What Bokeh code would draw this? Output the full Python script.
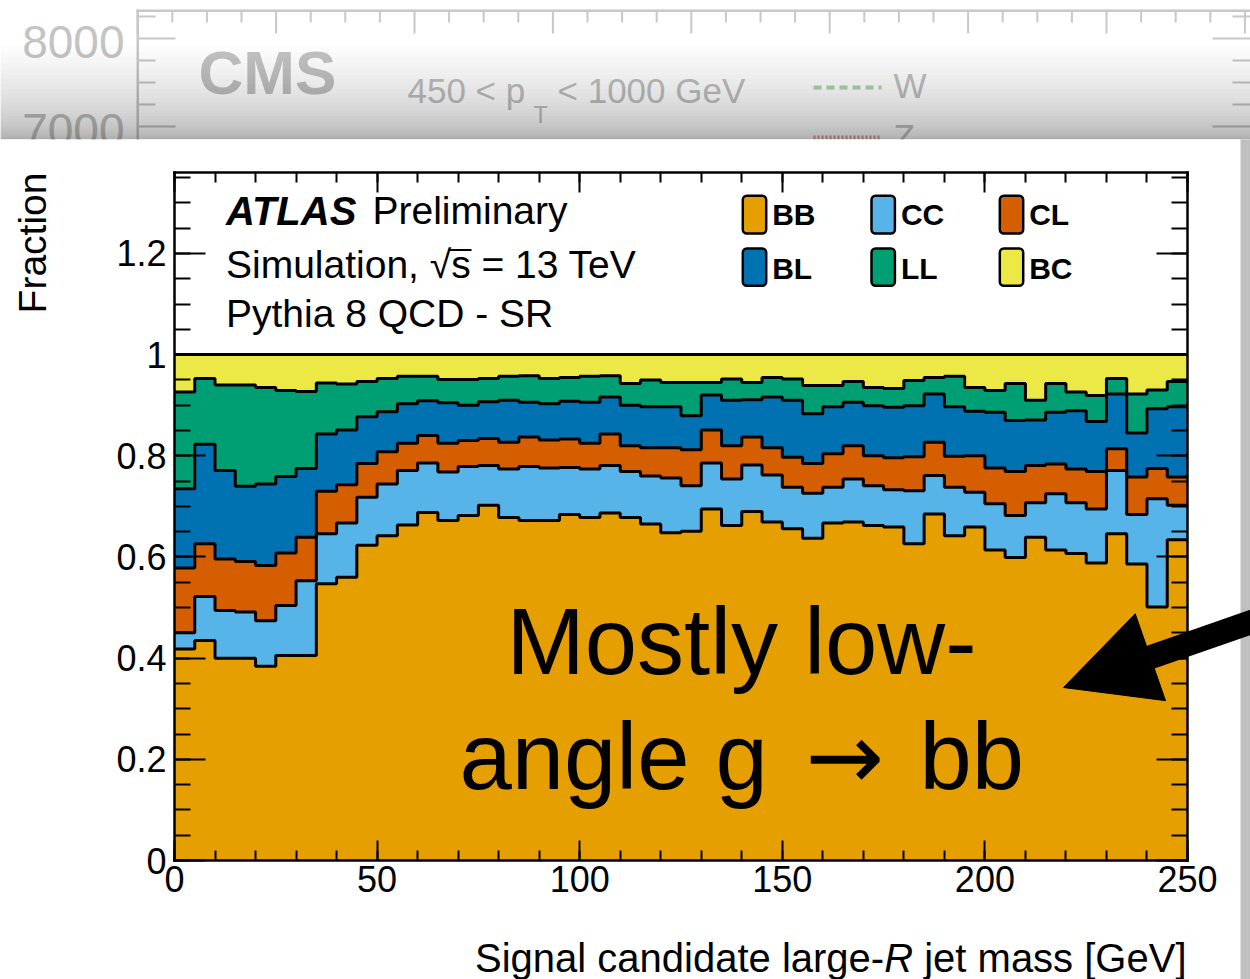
import numpy as np
from bokeh.plotting import figure
from bokeh.models import (Range1d, LinearAxis, SingleIntervalTicker, CustomJSTickFormatter,
                          Label, BoxAnnotation, Arrow, NormalHead)
from bokeh.embed import file_html
from bokeh.resources import INLINE

# ---------------- data (fractions per 5 GeV bin, 0-250 GeV) ----------------
mass_edges = list(range(0, 255, 5))
frac_BB = [0.418, 0.435, 0.400, 0.400, 0.384, 0.405, 0.405, 0.547, 0.560, 0.623,
           0.642, 0.663, 0.688, 0.672, 0.682, 0.702, 0.678, 0.672, 0.672, 0.684,
           0.678, 0.687, 0.678, 0.665, 0.648, 0.651, 0.695, 0.662, 0.690, 0.669,
           0.656, 0.637, 0.667, 0.669, 0.662, 0.659, 0.626, 0.685, 0.642, 0.659,
           0.614, 0.599, 0.639, 0.614, 0.607, 0.588, 0.646, 0.586, 0.501, 0.634]
frac_CC = [0.032, 0.087, 0.094, 0.091, 0.090, 0.099, 0.148, 0.099, 0.107, 0.095,
           0.102, 0.108, 0.098, 0.096, 0.097, 0.079, 0.096, 0.107, 0.104, 0.093,
           0.096, 0.094, 0.091, 0.095, 0.108, 0.090, 0.091, 0.092, 0.092, 0.093,
           0.082, 0.089, 0.071, 0.085, 0.079, 0.074, 0.105, 0.076, 0.096, 0.069,
           0.091, 0.083, 0.068, 0.111, 0.100, 0.107, 0.125, 0.098, 0.214, 0.068]
frac_CL = [0.128, 0.104, 0.102, 0.100, 0.109, 0.104, 0.086, 0.084, 0.076, 0.067,
           0.064, 0.054, 0.054, 0.057, 0.051, 0.053, 0.053, 0.058, 0.055, 0.056,
           0.051, 0.062, 0.051, 0.056, 0.060, 0.071, 0.065, 0.066, 0.055, 0.054,
           0.059, 0.059, 0.066, 0.066, 0.059, 0.063, 0.067, 0.066, 0.061, 0.072,
           0.071, 0.087, 0.074, 0.059, 0.067, 0.074, 0.043, 0.074, 0.060, 0.056]
frac_BL = [0.157, 0.197, 0.175, 0.149, 0.161, 0.151, 0.136, 0.113, 0.108, 0.092,
           0.079, 0.078, 0.069, 0.080, 0.070, 0.073, 0.083, 0.069, 0.072, 0.075,
           0.081, 0.073, 0.080, 0.081, 0.081, 0.067, 0.069, 0.090, 0.074, 0.100,
           0.113, 0.098, 0.093, 0.086, 0.099, 0.100, 0.101, 0.095, 0.098, 0.088,
           0.110, 0.101, 0.090, 0.102, 0.115, 0.099, 0.108, 0.087, 0.118, 0.139]
frac_LL = [0.191, 0.130, 0.169, 0.200, 0.191, 0.170, 0.152, 0.101, 0.091, 0.070,
           0.066, 0.054, 0.048, 0.046, 0.051, 0.046, 0.047, 0.052, 0.050, 0.047,
           0.051, 0.042, 0.043, 0.053, 0.048, 0.066, 0.025, 0.042, 0.034, 0.039,
           0.042, 0.056, 0.042, 0.041, 0.036, 0.037, 0.050, 0.033, 0.060, 0.047,
           0.043, 0.073, 0.039, 0.057, 0.037, 0.051, 0.031, 0.077, 0.037, 0.050]
frac_BC = [0.074, 0.047, 0.060, 0.060, 0.065, 0.071, 0.073, 0.056, 0.058, 0.053,
           0.047, 0.043, 0.043, 0.049, 0.049, 0.047, 0.043, 0.042, 0.047, 0.045,
           0.043, 0.042, 0.057, 0.050, 0.055, 0.055, 0.055, 0.048, 0.055, 0.045,
           0.048, 0.061, 0.061, 0.053, 0.065, 0.067, 0.051, 0.045, 0.043, 0.065,
           0.071, 0.057, 0.090, 0.057, 0.074, 0.081, 0.047, 0.078, 0.070, 0.053]

categories = ["BB", "CC", "CL", "BL", "LL", "BC"]
colors = ["#E69F00", "#56B4E9", "#D55E00", "#0072B2", "#009E73", "#ECE845"]

# ---------------- geometry helpers (canvas pixels -> data) ----------------
W, H = 1250, 979
FL, FR, FT, FB = 174, 1187, 172, 860          # the histogram box on the canvas
X_MAX, Y_MAX = 250.0, 1.36
SX = (FR - FL) / X_MAX
SY = (FB - FT) / Y_MAX


def dx(px):
    return (px - FL) / SX


def dy(py):
    return (FB - py) / SY


FONT = "Liberation Sans"
MID = 0.3465   # em offset of the em-box middle above the baseline

p = figure(width=W, height=H, x_range=Range1d(dx(0), dx(W)), y_range=Range1d(dy(H), dy(0)),
           output_backend="svg", toolbar_location=None,
           min_border_left=0, min_border_right=0, min_border_top=0, min_border_bottom=0,
           background_fill_color="white", border_fill_color="white",
           outline_line_color=None)
p.title.visible = False
p.xgrid.visible = False
p.ygrid.visible = False

# ---------------- stacked histogram ----------------
edges = np.array(mass_edges, dtype=float)
stack = np.vstack([frac_BB, frac_CC, frac_CL, frac_BL, frac_LL, frac_BC])
cum = np.cumsum(stack, axis=0)

for k in range(len(categories) - 1, -1, -1):
    vals = cum[k]
    xs = list(np.repeat(edges, 2)[1:-1]) + [edges[-1], edges[0]]
    ys = list(np.repeat(vals, 2)) + [0.0, 0.0]
    p.patch(xs, ys, fill_color=colors[k], line_color=None)

for k in range(len(categories)):
    vals = cum[k]
    p.step(x=edges, y=np.append(vals, vals[-1]), mode="after",
           line_color="black", line_width=3)

# ---------------- axes (fixed on the histogram box) ----------------
fmt = CustomJSTickFormatter(code="return String(Math.round(tick*10)/10)")

xa = p.xaxis[0]
xa.ticker = SingleIntervalTicker(interval=50, num_minor_ticks=5)
xa.fixed_location = 0
xa.bounds = (0, X_MAX)
ya = p.yaxis[0]
ya.ticker = SingleIntervalTicker(interval=0.2, num_minor_ticks=4)
ya.formatter = fmt
ya.fixed_location = 0
ya.bounds = (0, Y_MAX)

top_ax = LinearAxis(ticker=SingleIntervalTicker(interval=50, num_minor_ticks=5),
                    fixed_location=Y_MAX, bounds=(0, X_MAX),
                    major_label_text_font_size="1px", major_label_text_color=None)
right_ax = LinearAxis(ticker=SingleIntervalTicker(interval=0.2, num_minor_ticks=4),
                      fixed_location=X_MAX, bounds=(0, Y_MAX),
                      major_label_text_font_size="1px", major_label_text_color=None)
p.add_layout(top_ax, "above")
p.add_layout(right_ax, "right")

for ax, tin, tmin in ((xa, 20, 10), (ya, 31, 16), (top_ax, 20, 10), (right_ax, 31, 16)):
    ax.major_tick_in = tin
    ax.major_tick_out = 0
    ax.minor_tick_in = tmin
    ax.minor_tick_out = 0
    ax.major_tick_line_width = 2
    ax.minor_tick_line_width = 2
    ax.major_tick_line_color = "black"
    ax.minor_tick_line_color = "black"
    ax.axis_line_color = "black"
    ax.axis_line_width = 2.5
    ax.axis_line_cap = "square"
for ax in (xa, ya):
    ax.major_label_text_font = FONT
    ax.major_label_text_font_size = "36px"
    ax.major_label_text_color = "black"
xa.major_label_standoff = 5
ya.major_label_standoff = 8


def box(l, r, t, b, color, alpha=1.0):
    p.add_layout(BoxAnnotation(left=dx(l), right=dx(r), top=dy(t), bottom=dy(b),
                               fill_color=color, fill_alpha=alpha, line_color=None))


def label(x, y, text, size, color="black", style="normal", align="left", angle=0.0,
          font=FONT):
    # (x, y) = left/centre/right point of the baseline on the canvas
    off = MID * size
    ax_ = x - off * np.sin(angle)
    ay_ = y - off * np.cos(angle)
    p.add_layout(Label(x=dx(ax_), y=dy(ay_), text=text, text_font=font,
                       text_font_size=f"{size}px", text_font_style=style,
                       text_color=color, text_align=align, text_baseline="middle",
                       angle=angle))


# ---------------- faded background slide (CMS) ----------------
GREY = "#c8c8c8"
TGREY = "#c4c4c4"
box(136, 1260, 9, 11.5, GREY)
box(136, 138.5, 9, 140, GREY)
k = 0
while True:
    tx = 137.2 + 34.6 * k
    if tx > 1252:
        break
    ln = 23 if (k - 8) % 4 == 0 else 12
    box(tx - 1, tx + 1, 10, 10 + ln, GREY)
    k += 1
for ty in [16, 38, 60, 82, 104, 126]:
    ln = 38 if ty in (38, 126) else 18
    box(137, 137 + ln, ty - 1, ty + 1, GREY)
    box(1250 - ln, 1252, ty - 1, ty + 1, GREY)
label(124, 57, "8000", 46, TGREY, align="right")
label(124, 145, "7000", 46, TGREY, align="right")
label(198, 93, "CMS", 62, TGREY, style="bold")
label(407, 102, "450 < p", 35, TGREY)
label(533, 122, "T", 23, TGREY)
label(557, 102, "< 1000 GeV", 35, TGREY)
p.add_layout(Arrow(end=None, x_start=dx(813), y_start=dy(87), x_end=dx(881), y_end=dy(87),
                   line_color="#a8dba8", line_width=4, line_dash="8 5"))
label(893, 97, "W", 35, TGREY)
p.add_layout(Arrow(end=None, x_start=dx(813), y_start=dy(137), x_end=dx(881), y_end=dy(137),
                   line_color="#e0a0a0", line_width=4, line_dash="2 2"))
label(893, 148, "Z", 35, TGREY)

# shadow above the card
n_sh = 30
for i in range(1, n_sh + 1):
    y0 = 139 - 94 * (i / n_sh) ** 2
    box(-5, 1260, y0, 139, "black", 0.012)

# card top strip (white) and right grey strip
box(-5, 1240, 139, 170, "white")
box(1240, 1260, 139, 985, "#c0c0c0")

# ---------------- axis titles ----------------
label(46, 172, "Fraction", 39, align="right", angle=np.pi / 2)
fs_t = 40
w_tail = 6.558 * fs_t      # "jet mass [GeV]"
w_sp = 0.278 * fs_t
w_R = 0.722 * fs_t
label(1186, 971, "jet mass [GeV]", fs_t, align="right")
label(1186 - w_tail - w_sp, 971, "R", fs_t, style="italic", align="right")
label(1186 - w_tail - w_sp - w_R, 971, "Signal candidate large-", fs_t, align="right")

# ---------------- ATLAS text ----------------
label(225.5, 224, "ATLAS", 40, style="bold italic")
label(372, 224, "Preliminary", 39)
label(225.5, 278, "Simulation, √s = 13 TeV", 39)
box(449.5, 471, 248.5, 250.5, "black")
label(225.5, 327, "Pythia 8 QCD - SR", 39)

# ---------------- legend ----------------
col_x = [742.3, 871.0, 999.3]
row_y = [(195.3, 233.0), (248.0, 285.3)]
lefts, rights, tops, bottoms, fills = [], [], [], [], []
for idx, cat in enumerate(categories):
    r, c = divmod(idx, 3)
    lefts.append(dx(col_x[c]))
    rights.append(dx(col_x[c] + 23.4))
    tops.append(dy(row_y[r][0]))
    bottoms.append(dy(row_y[r][1]))
    fills.append(colors[idx])
    label(col_x[c] + 29.4, 224.7 if r == 0 else 278.0, cat, 30, style="bold")
p.quad(left=lefts, right=rights, top=tops, bottom=bottoms, fill_color=fills,
       line_color="black", line_width=2.5, border_radius=4)

# ---------------- annotation text + arrow ----------------
label(741, 674, "Mostly low-", 94, align="center")
label(459, 789, "angle g", 94)
label(844.5, 789, "\u2192", 94, align="center", font="DejaVu Sans")
label(919, 789, "bb", 94)
p.add_layout(Arrow(end=NormalHead(size=92, fill_color="black", line_color="black", line_width=1),
                   x_start=dx(1262), y_start=dy(617.6), x_end=dx(1063), y_end=dy(687),
                   line_color="black", line_width=24))

open("out.html", "w").write(file_html(p, INLINE))
